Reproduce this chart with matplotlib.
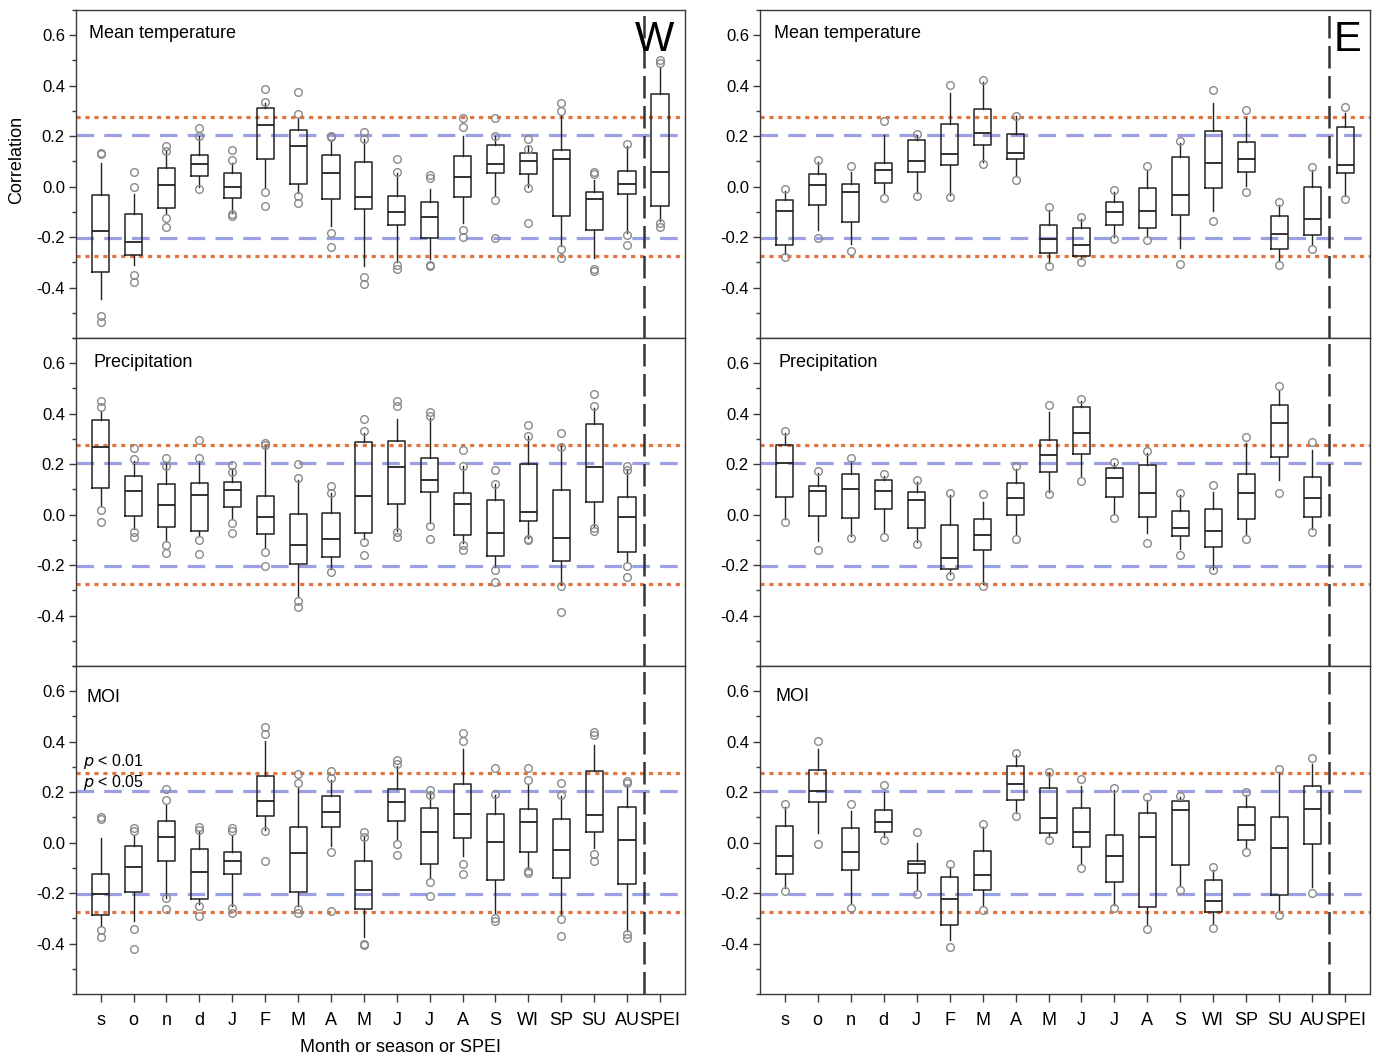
import matplotlib
matplotlib.use("Agg")
import matplotlib.pyplot as plt
from matplotlib.ticker import MultipleLocator

plt.rcParams["font.family"] = ["Liberation Sans", "DejaVu Sans"]

CATS = ["s", "o", "n", "d", "J", "F", "M", "A", "M", "J", "J", "A", "S",
        "WI", "SP", "SU", "AU", "SPEI"]

P05 = 0.205   # p < 0.05
P01 = 0.275   # p < 0.01

# ---------------------------------------------------------------------------
# Box statistics (whisker low, q1, median, q3, whisker high)
# ---------------------------------------------------------------------------

# W - mean temperature (incl. SPEI)
W_TEMP_LO = [-0.446, -0.31, -0.104, 0.0, -0.104, 0.0, -0.025, -0.157, -0.314, -0.30,
             -0.288, -0.143, -0.038, 0.0, -0.236, -0.282, -0.183, -0.137]
W_TEMP_Q1 = [-0.34, -0.272, -0.086, 0.042, -0.047, 0.109, 0.01, -0.049, -0.089, -0.151,
             -0.204, -0.043, 0.053, 0.05, -0.116, -0.171, -0.029, -0.078]
W_TEMP_MED = [-0.176, -0.218, 0.007, 0.088, 0.0, 0.243, 0.162, 0.054, -0.041, -0.10,
              -0.122, 0.037, 0.088, 0.103, 0.108, -0.049, 0.011, 0.059]
W_TEMP_Q3 = [-0.034, -0.11, 0.074, 0.125, 0.055, 0.31, 0.225, 0.124, 0.096, -0.039,
             -0.059, 0.12, 0.163, 0.134, 0.147, -0.022, 0.063, 0.367]
W_TEMP_HI = [0.093, -0.03, 0.14, 0.20, 0.093, 0.33, 0.27, 0.18, 0.19, 0.054,
             -0.008, 0.20, 0.20, 0.16, 0.278, 0.028, 0.159, 0.475]
W_TEMP_OUT = [[0.133, 0.129, -0.512, -0.535], [0.058, 0.0, -0.35, -0.38],
              [0.159, 0.142, -0.126, -0.161], [0.232, 0.2, -0.008],
              [0.147, 0.105, -0.11, -0.117], [0.386, 0.337, -0.021, -0.078],
              [0.375, 0.287, -0.038, -0.064], [0.202, 0.198, -0.183, -0.238],
              [0.218, 0.188, -0.357, -0.387], [0.109, 0.058, -0.309, -0.328],
              [0.045, 0.034, -0.31, -0.315], [0.27, 0.236, -0.172, -0.199],
              [0.27, 0.2, -0.054, -0.204], [0.188, 0.151, -0.005, -0.146],
              [0.333, 0.301, -0.249, -0.282], [0.058, 0.051, -0.325, -0.334],
              [0.17, -0.193, -0.233], [0.501, 0.488, -0.143, -0.161]]

# E - mean temperature (incl. SPEI)
E_TEMP_LO = [-0.268, -0.17, -0.229, -0.025, -0.025, -0.032, 0.096, 0.041, -0.301, -0.288,
             -0.199, -0.199, -0.242, -0.097, 0.001, -0.295, -0.233, -0.038]
E_TEMP_Q1 = [-0.232, -0.074, -0.142, 0.014, 0.057, 0.084, 0.164, 0.109, -0.262, -0.275,
             -0.151, -0.163, -0.113, -0.007, 0.059, -0.249, -0.192, 0.054]
E_TEMP_MED = [-0.096, 0.007, -0.022, 0.067, 0.101, 0.129, 0.214, 0.133, -0.207, -0.23,
              -0.10, -0.095, -0.033, 0.095, 0.109, -0.188, -0.13, 0.086]
E_TEMP_Q3 = [-0.053, 0.051, 0.011, 0.093, 0.186, 0.247, 0.309, 0.208, -0.151, -0.163,
             -0.059, -0.007, 0.117, 0.22, 0.178, -0.117, -0.001, 0.237]
E_TEMP_HI = [-0.018, 0.096, 0.057, 0.205, 0.205, 0.372, 0.416, 0.278, -0.091, -0.13,
             -0.022, 0.067, 0.172, 0.33, 0.271, -0.071, 0.064, 0.291]
E_TEMP_OUT = [[-0.008, -0.278], [0.107, -0.203], [0.083, -0.255], [0.259, -0.045],
              [0.208, -0.038], [0.403, -0.042], [0.422, 0.088], [0.28, 0.028],
              [-0.082, -0.314], [-0.121, -0.299], [-0.012, -0.209], [0.08, -0.212],
              [0.18, -0.308], [0.382, -0.138], [0.305, -0.02], [-0.062, -0.311],
              [0.076, -0.246], [0.314, -0.049]]

# W - precipitation
W_PREC_LO = [0.034, -0.058, -0.104, -0.084, -0.018, -0.13, -0.321, -0.216, -0.097,
             -0.064, -0.032, -0.111, -0.209, -0.091, -0.275, -0.051, -0.189]
W_PREC_Q1 = [0.105, -0.005, -0.049, -0.064, 0.03, -0.078, -0.195, -0.167, -0.072,
             0.041, 0.091, -0.079, -0.164, -0.025, -0.182, 0.051, -0.15]
W_PREC_MED = [0.268, 0.093, 0.038, 0.076, 0.096, -0.009, -0.12, -0.097, 0.074,
              0.188, 0.137, 0.043, -0.071, 0.011, -0.091, 0.189, -0.009]
W_PREC_Q3 = [0.374, 0.154, 0.122, 0.124, 0.13, 0.074, 0.004, 0.007, 0.288,
             0.292, 0.224, 0.086, 0.058, 0.2, 0.096, 0.358, 0.071]
W_PREC_HI = [0.409, 0.212, 0.205, 0.212, 0.179, 0.271, 0.139, 0.087, 0.324,
             0.379, 0.383, 0.192, 0.12, 0.31, 0.271, 0.422, 0.179]
W_PREC_OUT = [[0.451, 0.425, 0.017, -0.028], [0.264, 0.222, -0.067, -0.087],
              [0.225, 0.192, -0.12, -0.154], [0.297, 0.225, -0.099, -0.157],
              [0.196, 0.17, -0.033, -0.071], [0.284, 0.275, -0.149, -0.204],
              [0.199, 0.145, -0.343, -0.367], [0.113, 0.087, -0.228],
              [0.379, 0.332, -0.108, -0.161], [0.451, 0.429, -0.068, -0.087],
              [0.405, 0.389, -0.046, -0.095], [0.255, 0.192, -0.121, -0.141],
              [0.175, 0.12, -0.218, -0.268], [0.357, 0.313, -0.095, -0.1],
              [0.324, 0.268, -0.283, -0.387], [0.478, 0.432, -0.055, -0.066],
              [0.192, 0.175, -0.203, -0.249]]

# E - precipitation
E_PREC_LO = [-0.018, -0.104, -0.084, -0.074, -0.11, -0.236, -0.275, -0.078, 0.091,
             0.153, 0.001, -0.074, -0.137, -0.216, -0.078, 0.139, -0.058]
E_PREC_Q1 = [0.071, -0.005, -0.014, 0.022, -0.054, -0.216, -0.139, -0.003, 0.17,
             0.242, 0.071, -0.011, -0.086, -0.129, -0.018, 0.23, -0.008]
E_PREC_MED = [0.205, 0.093, 0.1, 0.095, 0.058, -0.171, -0.08, 0.064, 0.236,
              0.325, 0.146, 0.084, -0.053, -0.064, 0.087, 0.364, 0.067]
E_PREC_Q3 = [0.276, 0.113, 0.159, 0.138, 0.088, -0.041, -0.017, 0.124, 0.297,
             0.426, 0.184, 0.195, 0.014, 0.021, 0.162, 0.434, 0.149]
E_PREC_HI = [0.324, 0.166, 0.212, 0.153, 0.129, 0.076, 0.05, 0.182, 0.405,
             0.449, 0.205, 0.245, 0.078, 0.089, 0.282, 0.495, 0.258]
E_PREC_OUT = [[0.332, -0.028], [0.172, -0.139], [0.225, -0.091], [0.159, -0.087],
              [0.137, -0.117], [0.087, -0.242], [0.082, -0.283], [0.192, -0.095],
              [0.434, 0.082], [0.459, 0.134], [0.209, -0.014], [0.251, -0.113],
              [0.086, -0.161], [0.117, -0.221], [0.308, -0.095], [0.508, 0.087],
              [0.286, -0.067]]

# W - MOI
W_MOI_LO = [-0.33, -0.31, -0.218, -0.245, -0.251, 0.049, -0.25, -0.014, -0.376,
            0.012, -0.139, -0.054, -0.284, -0.1, -0.284, -0.021, -0.35]
W_MOI_Q1 = [-0.287, -0.195, -0.071, -0.225, -0.125, 0.107, -0.196, 0.062, -0.263,
            0.086, -0.084, 0.018, -0.149, -0.036, -0.142, 0.041, -0.163]
W_MOI_MED = [-0.205, -0.097, 0.022, -0.116, -0.071, 0.164, -0.041, 0.12, -0.188,
             0.161, 0.041, 0.114, 0.004, 0.08, -0.03, 0.111, 0.012]
W_MOI_Q3 = [-0.124, -0.014, 0.087, -0.025, -0.036, 0.266, 0.061, 0.184, -0.071,
            0.212, 0.138, 0.232, 0.114, 0.134, 0.095, 0.282, 0.141]
W_MOI_HI = [0.018, 0.032, 0.15, 0.047, 0.032, 0.403, 0.22, 0.25, 0.025,
            0.304, 0.203, 0.37, 0.189, 0.233, 0.183, 0.387, 0.229]
W_MOI_OUT = [[0.1, 0.093, -0.347, -0.374], [0.058, 0.045, -0.343, -0.42],
             [0.214, 0.168, -0.22, -0.262], [0.061, 0.051, -0.251, -0.292],
             [0.058, 0.045, -0.258, -0.28], [0.459, 0.43, 0.045, -0.074],
             [0.271, 0.238, -0.262, -0.278], [0.283, 0.258, -0.038, -0.272],
             [0.043, 0.022, -0.4, -0.405], [0.328, 0.312, -0.005, -0.051],
             [0.209, 0.187, -0.157, -0.212], [0.436, 0.404, -0.083, -0.124],
             [0.297, 0.192, -0.3, -0.309], [0.295, 0.247, -0.112, -0.12],
             [0.237, 0.189, -0.304, -0.37], [0.439, 0.426, -0.047, -0.072],
             [0.246, 0.238, -0.361, -0.379]]

# E - MOI
E_MOI_LO = [-0.18, 0.037, -0.239, 0.024, -0.187, -0.384, -0.253, 0.116, 0.024,
            -0.084, -0.246, -0.325, -0.167, -0.318, -0.022, -0.272, -0.174]
E_MOI_Q1 = [-0.124, 0.162, -0.108, 0.041, -0.12, -0.328, -0.188, 0.167, 0.039,
            -0.016, -0.157, -0.255, -0.088, -0.276, 0.012, -0.208, -0.005]
E_MOI_MED = [-0.054, 0.204, -0.036, 0.082, -0.086, -0.225, -0.128, 0.232, 0.097,
             0.042, -0.053, 0.021, 0.128, -0.23, 0.071, -0.02, 0.133]
E_MOI_Q3 = [0.064, 0.287, 0.059, 0.128, -0.071, -0.138, -0.034, 0.305, 0.218,
            0.136, 0.03, 0.118, 0.166, -0.147, 0.141, 0.103, 0.225]
E_MOI_HI = [0.142, 0.372, 0.126, 0.201, 0.0, -0.095, 0.063, 0.346, 0.274,
            0.224, 0.208, 0.168, 0.179, -0.108, 0.188, 0.28, 0.313]
E_MOI_OUT = [[0.155, -0.191], [0.403, -0.007], [0.155, -0.258], [0.229, 0.011],
             [0.042, -0.204], [-0.084, -0.413], [0.072, -0.266], [0.357, 0.107],
             [0.28, 0.012], [0.254, -0.101], [0.218, -0.261], [0.179, -0.343],
             [0.184, -0.187], [-0.096, -0.338], [0.199, -0.037], [0.292, -0.287],
             [0.337, -0.2]]

ORANGE = "#E2743F"
BLUE = "#9AA0E2"
EDGE = "#3a3a3a"


def draw_panel(ax, lo, q1, med, q3, hi, out, title, title_x, title_y):
    stats = []
    for i in range(len(med)):
        stats.append(dict(whislo=lo[i], q1=q1[i], med=med[i], q3=q3[i],
                          whishi=hi[i], fliers=out[i]))
    pos = list(range(1, len(med) + 1))

    # significance thresholds and the W/E | SPEI separator
    ax.axhline(P01, color=ORANGE, lw=2.3, ls=(0, (1.3, 1.5)), zorder=1)
    ax.axhline(-P01, color=ORANGE, lw=2.3, ls=(0, (1.3, 1.5)), zorder=1)
    ax.axhline(P05, color=BLUE, lw=2.3, ls=(0, (5.5, 3.2)), zorder=1)
    ax.axhline(-P05, color=BLUE, lw=2.3, ls=(0, (5.5, 3.2)), zorder=1)
    ax.axvline(17.5, color="#333333", lw=1.8, ls=(0, (9, 3)), zorder=1)

    ax.bxp(stats, positions=pos, widths=0.52, showcaps=False, patch_artist=False,
           boxprops=dict(color="#222222", lw=1.1),
           whiskerprops=dict(color="#222222", lw=1.0),
           medianprops=dict(color="#222222", lw=1.3),
           flierprops=dict(marker="o", markersize=5.5, markerfacecolor="none",
                           markeredgecolor="#8a8a8a", markeredgewidth=1.0),
           zorder=3)

    ax.set_xlim(0.25, 18.75)
    ax.set_ylim(-0.6, 0.7)
    ax.set_xticks(range(1, 19))
    ax.set_xticklabels([])
    ax.yaxis.set_minor_locator(MultipleLocator(0.1))
    ax.set_yticks([-0.4, -0.2, 0.0, 0.2, 0.4, 0.6])
    ax.set_yticklabels(["-0.4", "-0.2", "0.0", "0.2", "0.4", "0.6"])
    ax.tick_params(axis="y", which="major", direction="out", length=5, width=1,
                   labelsize=12, color=EDGE, pad=3)
    ax.tick_params(axis="y", which="minor", direction="out", length=3, width=1,
                   color=EDGE)
    ax.tick_params(axis="x", direction="out", length=6, width=1, color=EDGE,
                   labelsize=13, pad=7)
    for sp in ax.spines.values():
        sp.set_color(EDGE)
        sp.set_linewidth(1.0)
    ax.text(title_x, title_y, title, transform=ax.transAxes, fontsize=13,
            va="center", ha="left")


fig = plt.figure(figsize=(13.76, 10.59), dpi=100)

LX, RX, W = 76 / 1376, 760 / 1376, 610 / 1376
H = 328 / 1059
ROWS = [1 - 338 / 1059, 1 - 666 / 1059, 1 - 994 / 1059]

ax_wt = fig.add_axes([LX, ROWS[0], W - 0.001, H])
ax_et = fig.add_axes([RX, ROWS[0], W, H])
ax_wp = fig.add_axes([LX, ROWS[1], W - 0.001, H])
ax_ep = fig.add_axes([RX, ROWS[1], W, H])
ax_wm = fig.add_axes([LX, ROWS[2], W - 0.001, H])
ax_em = fig.add_axes([RX, ROWS[2], W, H])

draw_panel(ax_wt, W_TEMP_LO, W_TEMP_Q1, W_TEMP_MED, W_TEMP_Q3, W_TEMP_HI, W_TEMP_OUT,
           "Mean temperature", 0.021, 0.927)
draw_panel(ax_et, E_TEMP_LO, E_TEMP_Q1, E_TEMP_MED, E_TEMP_Q3, E_TEMP_HI, E_TEMP_OUT,
           "Mean temperature", 0.023, 0.927)
draw_panel(ax_wp, W_PREC_LO, W_PREC_Q1, W_PREC_MED, W_PREC_Q3, W_PREC_HI, W_PREC_OUT,
           "Precipitation", 0.028, 0.924)
draw_panel(ax_ep, E_PREC_LO, E_PREC_Q1, E_PREC_MED, E_PREC_Q3, E_PREC_HI, E_PREC_OUT,
           "Precipitation", 0.03, 0.924)
draw_panel(ax_wm, W_MOI_LO, W_MOI_Q1, W_MOI_MED, W_MOI_Q3, W_MOI_HI, W_MOI_OUT,
           "MOI", 0.018, 0.905)
draw_panel(ax_em, E_MOI_LO, E_MOI_Q1, E_MOI_MED, E_MOI_Q3, E_MOI_HI, E_MOI_OUT,
           "MOI", 0.026, 0.907)

for ax in (ax_wm, ax_em):
    ax.set_xticklabels(CATS)

ax_wt.text(0.951, 0.97, "W", transform=ax_wt.transAxes, fontsize=30,
           ha="center", va="top")
ax_et.text(0.963, 0.97, "E", transform=ax_et.transAxes, fontsize=30,
           ha="center", va="top")

ax_wm.text(0.45, 0.322, r"$\it{p}$ < 0.01", fontsize=11.5, ha="left", va="center")
ax_wm.text(0.45, 0.237, r"$\it{p}$ < 0.05", fontsize=11.5, ha="left", va="center")

fig.text(17 / 1376, 1 - 160 / 1059, "Correlation", rotation=90, fontsize=13,
         ha="center", va="center")
fig.text(400 / 1376, 1 - 1048 / 1059, "Month or season or SPEI", fontsize=13,
         ha="center", va="center")

fig.savefig("out.png", dpi=100)
